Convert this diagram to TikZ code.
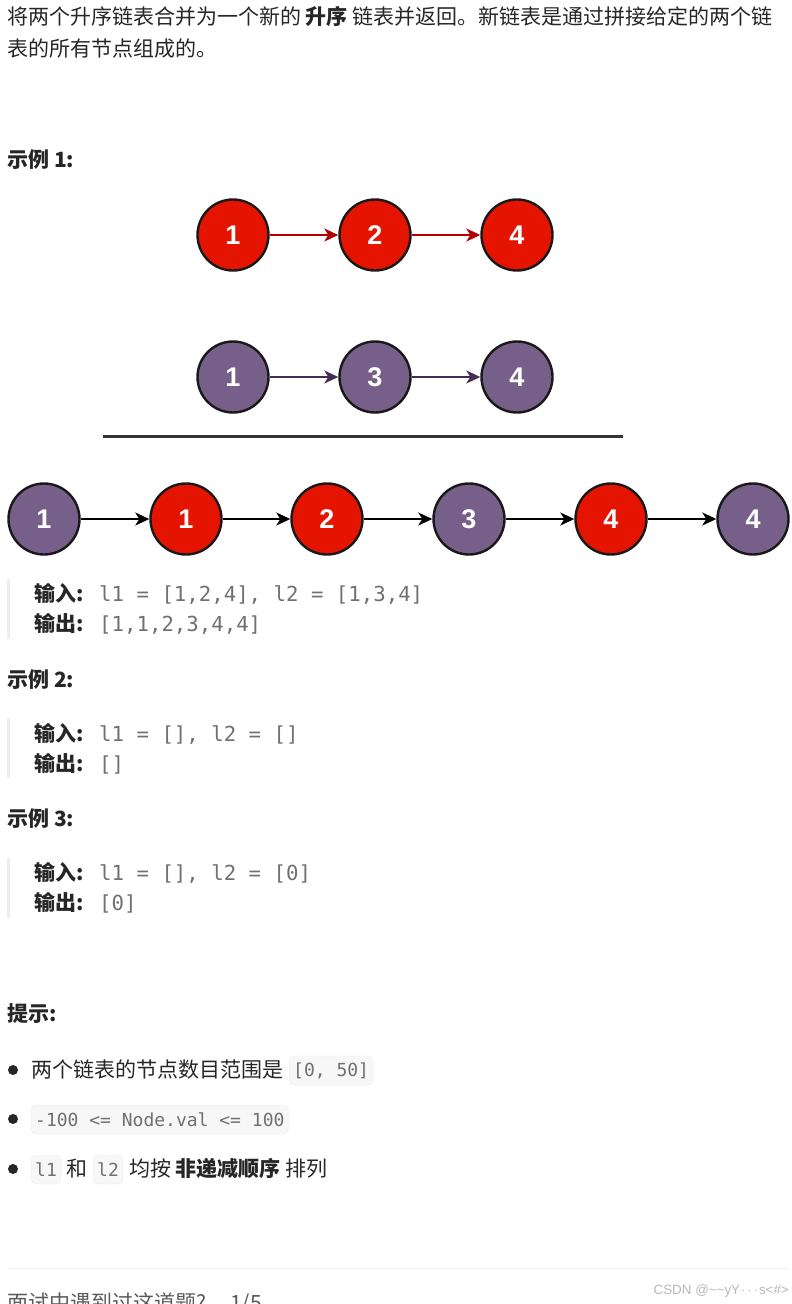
\documentclass[tikz,border=0pt]{standalone}
\usepackage{fontspec}
\usepackage{tikz}
\usetikzlibrary{arrows.meta,positioning}
\setmainfont{Noto Sans CJK SC}
\setmonofont{DejaVu Sans Mono}
\newfontfamily\numfont{Liberation Sans}
\definecolor{listred}{HTML}{E51400}
\definecolor{linkred}{HTML}{B20000}
\definecolor{listpurple}{HTML}{76608A}
\definecolor{linkpurple}{HTML}{432D57}
\definecolor{inktext}{HTML}{262626}
\definecolor{codetext}{HTML}{707070}
\definecolor{barcol}{HTML}{EEEEEE}
\tikzset{
  listnode/.style={circle,draw=black!90,line width=2.4pt,minimum size=71pt,inner sep=0pt,
    text=white,font=\numfont\bfseries\fontsize{27}{27}\selectfont},
  rednode/.style={listnode,fill=listred},
  purplenode/.style={listnode,fill=listpurple},
  linkhead/.style={-{Stealth[length=14pt,width=13pt,inset=4pt]},line width=1.7pt},
  redlink/.style={linkhead,draw=linkred},
  purplelink/.style={linkhead,draw=linkpurple},
  blacklink/.style={linkhead,draw=black},
  bodytext/.style={anchor=base west,inner sep=0pt,text=inktext,font=\fontsize{21}{32}\selectfont},
  headtext/.style={bodytext,font=\bfseries\fontsize{21}{33}\selectfont},
  codeline/.style={anchor=base west,inner sep=0pt,text=codetext,font=\ttfamily\fontsize{20.7}{25}\selectfont},
  quotebar/.style={anchor=north west,fill=barcol,minimum width=3pt,minimum height=60pt,inner sep=0pt},
  chip/.style={anchor=west,rounded corners=5pt,fill=black!3,draw=black!8,minimum height=29pt,
    inner xsep=4pt,inner ysep=0pt,text=codetext,font=\ttfamily\fontsize{18}{22}\selectfont},
  dotmark/.style={circle,fill=inktext,minimum size=10pt,inner sep=0pt}
}
\begin{document}
\begin{tikzpicture}[x=1pt,y=-1pt]
  \clip (0,0) rectangle (792,1304);
  % intro
  \path (7,23) node[bodytext,align=left,anchor=north west,yshift=17pt] (intro) {将两个升序链表合并为一个新的 \textbf{升序} 链表并返回。新链表是通过拼接给定的两个链\\表的所有节点组成的。};
  \path (7,167) node[headtext] (headone) {示例 1:};
  % first list
  \path (233,235) node[rednode] (redone) {1}
        (375,235) node[rednode] (redtwo) {2}
        (517,235) node[rednode] (redfour) {4};
  \draw [redlink] (redone) to (redtwo);
  \draw [redlink] (redtwo) to (redfour);
  % second list
  \path (233,377) node[purplenode] (purpleone) {1}
        (375,377) node[purplenode] (purplethree) {3}
        (517,377) node[purplenode] (purplefour) {4};
  \draw [purplelink] (purpleone) to (purplethree);
  \draw [purplelink] (purplethree) to (purplefour);
  \coordinate (ruleleft) at (103,436);
  \coordinate (ruleright) at (623,436);
  \draw [line width=3pt,draw=black!80] (ruleleft) to (ruleright);
  % merged list
  \path (44,519) node[purplenode] (mergedone) {1}
        (186,519) node[rednode] (mergedtwo) {1}
        (327,519) node[rednode] (mergedthree) {2}
        (469,519) node[purplenode] (mergedfour) {3}
        (611,519) node[rednode] (mergedfive) {4}
        (753,519) node[purplenode] (mergedsix) {4};
  \draw [blacklink] (mergedone) to (mergedtwo);
  \draw [blacklink] (mergedtwo) to (mergedthree);
  \draw [blacklink] (mergedthree) to (mergedfour);
  \draw [blacklink] (mergedfour) to (mergedfive);
  \draw [blacklink] (mergedfive) to (mergedsix);
  % example 1 text
  \path (7,579) node[quotebar] (barone) {};
  \path (34,601) node[headtext] (inone) {输入:}
        (99,601) node[codeline] (incodeone) {l1 = [1,2,4], l2 = [1,3,4]}
        (34,631) node[headtext] (outone) {输出:}
        (99,631) node[codeline] (outcodeone) {[1,1,2,3,4,4]};
  % example 2
  \path (7,687) node[headtext] (headtwo) {示例 2:};
  \path (7,718) node[quotebar] (bartwo) {};
  \path (34,741) node[headtext] (intwo) {输入:}
        (99,741) node[codeline] (incodetwo) {l1 = [], l2 = []}
        (34,771) node[headtext] (outtwo) {输出:}
        (99,771) node[codeline] (outcodetwo) {[]};
  % example 3
  \path (7,826) node[headtext] (headthree) {示例 3:};
  \path (7,858) node[quotebar] (barthree) {};
  \path (34,880) node[headtext] (inthree) {输入:}
        (99,880) node[codeline] (incodethree) {l1 = [], l2 = [0]}
        (34,910) node[headtext] (outthree) {输出:}
        (99,910) node[codeline] (outcodethree) {[0]};
  % hints
  \path (7,1021) node[headtext] (headhint) {提示:};
  \path (13,1070) node[dotmark] (dotone) {}
        (13,1119) node[dotmark] (dottwo) {}
        (13,1169) node[dotmark] (dotthree) {};
  \path (31,1077) node[bodytext] (hintone) {两个链表的节点数目范围是}
        (289,1070.5) node[chip] (chiprange) {[0, 50]}
        (31,1119.5) node[chip] (chipval) {-100 <= Node.val <= 100}
        (31,1169.5) node[chip] (chiplone) {l1}
        (66,1176) node[bodytext] (hintand) {和}
        (93,1169.5) node[chip] (chipltwo) {l2}
        (129,1176) node[bodytext] (hintsort) {均按 \textbf{非递减顺序} 排列};
  % footer
  \coordinate (footleft) at (7,1268);
  \coordinate (footright) at (789,1268);
  \draw [line width=1pt,draw=black!6] (footleft) to (footright);
  \path (7,1310) node[bodytext,text=black!65] (askline) {面试中遇到过这道题?\hspace{24pt}1/5};
  \path (789,1291) node[anchor=east,inner sep=0pt,text=black!28,font=\numfont\fontsize{13.4}{14}\selectfont] (mark) {CSDN @\string~\string~yY\kern1pt$\cdots$\kern1pt s<\#>};
\end{tikzpicture}
\end{document}
